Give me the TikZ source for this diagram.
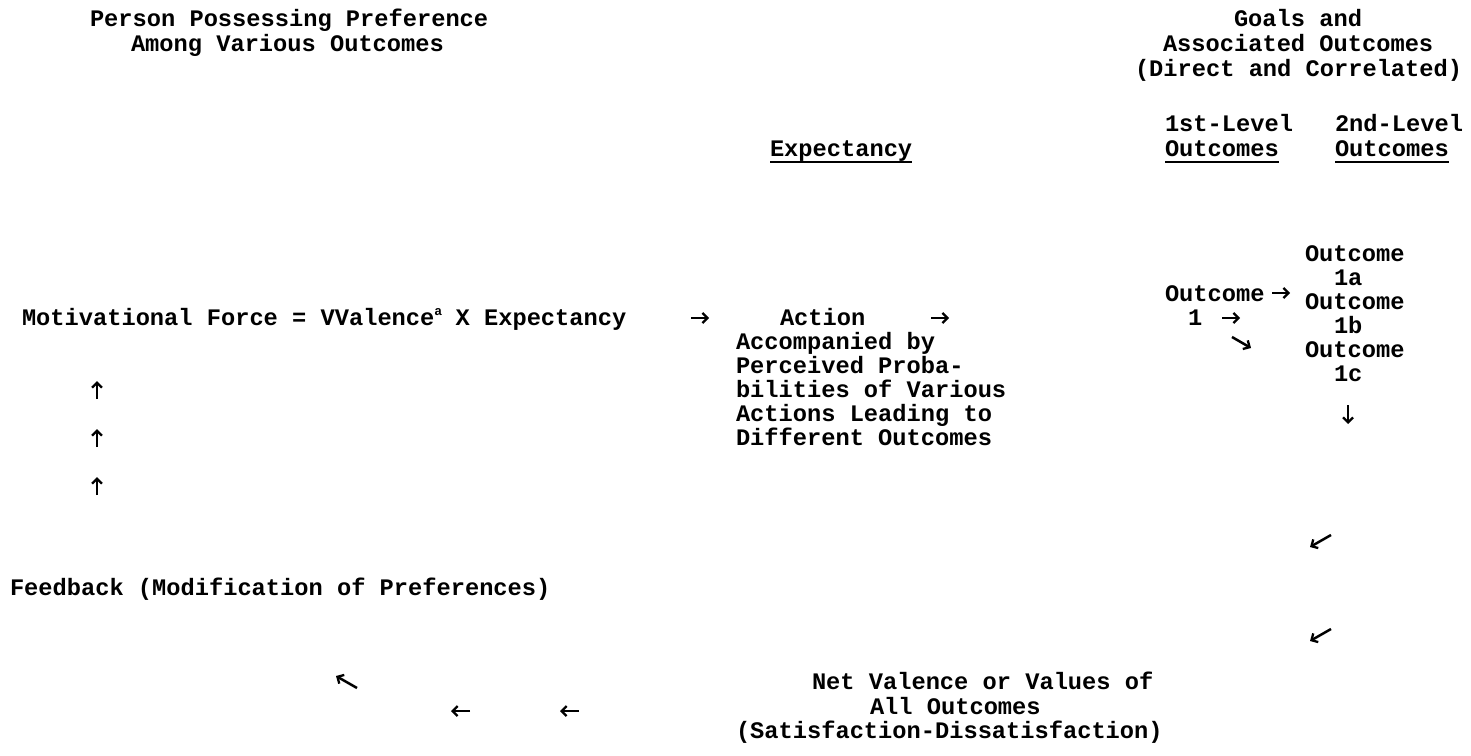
\documentclass[tikz,border=0pt]{standalone}
\usepackage{fontspec}
\setmainfont{Liberation Mono}
\usetikzlibrary{arrows.meta}
\tikzset{
  body/.style={inner sep=0pt, outer sep=0pt, anchor=base west, font=\fontsize{23.7}{24}\selectfont\bfseries},
  arrowmark/.style={line width=2.5pt, -{Straight Barb[length=5pt,width=10pt,line width=2.3pt]}},
  uline/.style={line width=1.5pt},
}
\begin{document}
\begin{tikzpicture}[x=1pt,y=-1pt]
\useasboundingbox (0,0) rectangle (1471,755);
% titles
\node[body] (ttlL1) at (90,26) {Person Possessing Preference};
\node[body] (ttlL2) at (131,51) {Among Various Outcomes};
\node[body] (ttlR1) at (1234,26) {Goals and};
\node[body] (ttlR2) at (1163,51) {Associated Outcomes};
\node[body] (ttlR3) at (1135,76) {(Direct and Correlated)};
% column heads
\node[body] (h1a) at (1165,131) {1st-Level};
\node[body] (h1b) at (1335,131) {2nd-Level};
\node[body] (exp) at (770,156) {Expectancy};
\node[body] (out1) at (1165,156) {Outcomes};
\node[body] (out2) at (1335,156) {Outcomes};
\draw[uline] ([yshift=-6pt]exp.base west) -- ([yshift=-6pt]exp.base east);
\draw[uline] ([yshift=-6pt]out1.base west) -- ([yshift=-6pt]out1.base east);
\draw[uline] ([yshift=-6pt]out2.base west) -- ([yshift=-6pt]out2.base east);
% right column (half-line offset)
\node[body] (oc2a) at (1305,261) {Outcome};
\node[body] (o1a) at (1334,285) {1a};
\node[body] (oc2b) at (1305,309) {Outcome};
\node[body] (o1b) at (1334,333) {1b};
\node[body] (oc2c) at (1305,357) {Outcome};
\node[body] (o1c) at (1334,381) {1c};
% first-level column
\node[body] (oc1) at (1165,301) {Outcome};
\node[body] (one) at (1188,325) {1};
% main rows
\node[body] (mf) at (22,325) {Motivational Force = VValence\makebox[7pt][l]{\raisebox{10pt}{\fontsize{13}{13}\selectfont a}} X Expectancy};
\node[body] (act) at (780,325) {Action};
\node[body] (acc) at (736,349) {Accompanied by};
\node[body] (per) at (736,373) {Perceived Proba-};
\node[body] (bil) at (736,397) {bilities of Various};
\node[body] (actl) at (736,421) {Actions Leading to};
\node[body] (dif) at (736,445) {Different Outcomes};
\node[body] (fb) at (10,595) {Feedback (Modification of Preferences)};
\node[body] (nv) at (812,689) {Net Valence or Values of};
\node[body] (ao) at (870,714) {All Outcomes};
\node[body] (sat) at (736,738) {(Satisfaction-Dissatisfaction)};
% arrow marks
\coordinate (a1s) at (691,318); \coordinate (a1e) at (709,318);
\coordinate (a2s) at (931,318); \coordinate (a2e) at (949,318);
\coordinate (a3s) at (1272,293); \coordinate (a3e) at (1290,293);
\coordinate (a4s) at (1222,318); \coordinate (a4e) at (1240,318);
\coordinate (a5s) at (1232,337); \coordinate (a5e) at (1251,348);
\coordinate (a6s) at (1348,405); \coordinate (a6e) at (1348,424);
\coordinate (u1s) at (97,399); \coordinate (u1e) at (97,381);
\coordinate (u2s) at (97,447); \coordinate (u2e) at (97,429);
\coordinate (u3s) at (97,495); \coordinate (u3e) at (97,477);
\coordinate (d1s) at (1331,535); \coordinate (d1e) at (1310,547);
\coordinate (d2s) at (1331,629); \coordinate (d2e) at (1310,641);
\coordinate (nws) at (357,688); \coordinate (nwe) at (336,676);
\coordinate (l1s) at (470,711); \coordinate (l1e) at (451,711);
\coordinate (l2s) at (579,711); \coordinate (l2e) at (560,711);
\foreach \p in {a1,a2,a3,a4,a5,a6,u1,u2,u3,d1,d2,nw,l1,l2}
  \draw[arrowmark] (\p s) -- (\p e);
\end{tikzpicture}
\end{document}
